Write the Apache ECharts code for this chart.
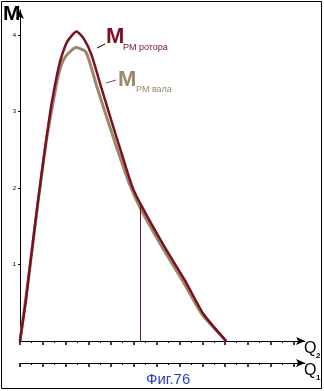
<!DOCTYPE html>
<html><head><meta charset="utf-8">
<script src="https://cdn.jsdelivr.net/npm/echarts@6/dist/echarts.min.js"></script>
<style>html,body{margin:0;padding:0;background:#fff}#c{width:324px;height:391px}</style>
</head><body><div id="c"></div>
<script>
// Data (Q in axis tick units, M in y units)
var rotorQ = [0, 0.26, 0.44, 0.79, 1.14, 1.40, 1.75, 2.06, 2.48, 2.81, 3.14, 3.58, 4.02, 4.47, 4.91, 5.29, 6.36, 7.24, 8.03, 9.04];
var rotorM = [0, 0.53, 0.99, 1.83, 2.61, 3.13, 3.65, 3.91, 4.05, 3.95, 3.74, 3.30, 2.87, 2.44, 2.03, 1.79, 1.22, 0.79, 0.36, 0];
var valaQ  = [0, 0.44, 0.79, 1.14, 1.45, 1.71, 1.97, 2.46, 2.89, 3.36, 3.82, 4.30, 4.79, 5.29, 6.27, 7.15, 7.98, 9.04];
var valaM  = [0, 0.98, 1.82, 2.59, 3.12, 3.51, 3.71, 3.84, 3.78, 3.34, 2.91, 2.48, 2.06, 1.73, 1.21, 0.78, 0.35, 0];
var kinkQ = 5.29, kinkM = 1.79;
var yTicks = [1, 2, 3, 4];
var xTicks = [0,1,2,3,4,5,6,7,8,9,10,11,12];

function pairs(a, b) { return a.map(function (v, i) { return [v, b[i]]; }); }

var chart = echarts.init(document.getElementById('c'));
var rotorColor = '#7a1020', valaColor = '#9c876a';
function xAx(offset) {
  return {
    type: 'value', min: 0, max: 12.5, interval: 1, position: 'bottom', offset: offset,
    axisLine: { show: true, onZero: false, lineStyle: { color: '#000', width: 1 }, symbol: ['none', 'arrow'], symbolSize: [6, 9] },
    axisTick: { show: true, inside: false, length: 4, customValues: xTicks, lineStyle: { color: '#000', width: 1.5 } },
    minorTick: { show: true, splitNumber: 2, length: 2, lineStyle: { color: '#000', width: 1 } },
    axisLabel: { show: false }, splitLine: { show: false }
  };
}
chart.setOption({
  animation: false,
  grid: { left: 20, right: 19, top: 10, bottom: 50, containLabel: false },
  xAxis: [xAx(0), xAx(22)],
  yAxis: {
    type: 'value', min: 0, max: 4.33, interval: 1,
    axisLine: { show: true, lineStyle: { color: '#000', width: 1 }, symbol: ['none', 'arrow'], symbolSize: [6, 9] },
    axisTick: { show: true, length: 2, customValues: yTicks, lineStyle: { color: '#000' } },
    axisLabel: { customValues: yTicks, fontSize: 6, color: '#000', margin: 4, fontFamily: 'Liberation Sans' },
    splitLine: { show: false }
  },
  series: [
    { type: 'line', data: pairs(valaQ, valaM), xAxisIndex: 0, showSymbol: false, smooth: 0.2,
      lineStyle: { color: valaColor, width: 3 }, z: 2 },
    { type: 'line', data: pairs(rotorQ, rotorM), xAxisIndex: 0, showSymbol: false, smooth: 0.2,
      lineStyle: { color: rotorColor, width: 2.5 }, z: 3,
      markLine: { silent: true, symbol: 'none', label: { show: false },
        lineStyle: { color: rotorColor, width: 1, type: 'solid' },
        data: [[{ coord: [kinkQ, 0] }, { coord: [kinkQ, kinkM] }]] } }
  ],
  graphic: [
    { type: 'rect', shape: { x: 1.5, y: 1.5, width: 320, height: 387 }, style: { fill: 'none', stroke: '#000', lineWidth: 1 } },
    { type: 'text', left: 3, top: 4, style: { text: 'M', font: 'bold 21px "Liberation Sans"', fill: '#000' } },
    { type: 'text', left: 106, top: 26, style: { text: 'M', font: 'bold 22px "Liberation Sans"', fill: rotorColor } },
    { type: 'text', left: 123, top: 43, style: { text: 'РМ ротора', font: '9px "Liberation Sans"', fill: rotorColor } },
    { type: 'line', shape: { x1: 97, y1: 48, x2: 105, y2: 44 }, style: { stroke: '#000', lineWidth: 1 } },
    { type: 'text', left: 118, top: 69, style: { text: 'M', font: 'bold 22px "Liberation Sans"', fill: valaColor } },
    { type: 'text', left: 136, top: 85, style: { text: 'РМ вала', font: '9px "Liberation Sans"', fill: valaColor } },
    { type: 'line', shape: { x1: 106, y1: 83, x2: 116, y2: 80 }, style: { stroke: '#555', lineWidth: 1 } },
    { type: 'text', left: 304, top: 341, style: { text: 'Q', font: '16px "Liberation Sans"', fill: '#000' } },
    { type: 'text', left: 316, top: 352, style: { text: '2', font: 'bold 8px "Liberation Sans"', fill: '#000' } },
    { type: 'text', left: 304, top: 363, style: { text: 'Q', font: '16px "Liberation Sans"', fill: '#000' } },
    { type: 'text', left: 316, top: 374, style: { text: '1', font: 'bold 8px "Liberation Sans"', fill: '#000' } },
    { type: 'text', left: 146, top: 372, style: { text: 'Фиг.76', font: '15px "Liberation Sans"', fill: '#2a3ec8' } }
  ]
});
</script></body></html>
